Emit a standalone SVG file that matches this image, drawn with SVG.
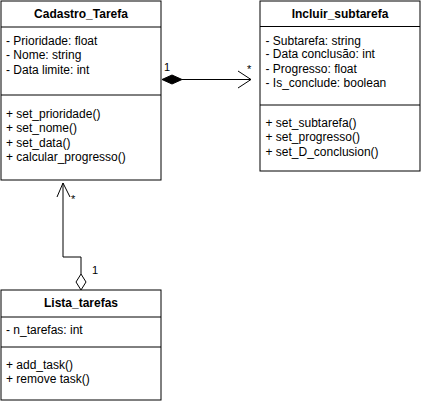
<svg xmlns="http://www.w3.org/2000/svg" width="421" height="404" viewBox="0 0 421 404">
<style>
.box{fill:#fff;stroke:#000;stroke-width:1}
.ln{stroke:#000;stroke-width:1;fill:none}
text{font-family:"Liberation Sans",Arial,sans-serif;font-size:12px;fill:#000}
.t{font-weight:bold;text-anchor:middle}
.lbl{font-size:11px}
</style>
<rect width="421" height="404" fill="#fff"/>
<g id="Cadastro_Tarefa">
<rect class="box" x="1" y="1" width="160" height="179"/>
<line class="ln" x1="1" y1="27" x2="161" y2="27"/>
<line class="ln" x1="1" y1="95" x2="161" y2="95"/>
<text class="t" x="81" y="18">Cadastro_Tarefa</text>
<text x="6" y="44.5">- Prioridade: float</text>
<text x="6" y="59">- Nome: string</text>
<text x="6" y="73.5">- Data limite: int</text>
<text x="6" y="117.5">+ set_prioridade()</text>
<text x="6" y="132">+ set_nome()</text>
<text x="6" y="146.5">+ set_data()</text>
<text x="6" y="161">+ calcular_progresso()</text>
</g>
<g id="Incluir_subtarefa">
<rect class="box" x="260" y="1" width="160" height="170"/>
<line class="ln" x1="260" y1="26.5" x2="420" y2="26.5"/>
<line class="ln" x1="260" y1="105" x2="420" y2="105"/>
<text class="t" x="340" y="18">Incluir_subtarefa</text>
<text x="265.5" y="44.5">- Subtarefa: string</text>
<text x="265.5" y="58">- Data conclusão: int</text>
<text x="265.5" y="72.5">- Progresso: float</text>
<text x="265.5" y="87">- Is_conclude: boolean</text>
<text x="265.5" y="126.5">+ set_subtarefa()</text>
<text x="265.5" y="141">+ set_progresso()</text>
<text x="265.5" y="155.5">+ set_D_conclusion()</text>
</g>
<g id="Lista_tarefas">
<rect class="box" x="1" y="290" width="160" height="110"/>
<line class="ln" x1="1" y1="317" x2="161" y2="317"/>
<line class="ln" x1="1" y1="347" x2="161" y2="347"/>
<text class="t" x="81" y="307">Lista_tarefas</text>
<text x="6" y="334">- n_tarefas: int</text>
<text x="6" y="368.5">+ add_task()</text>
<text x="6" y="383">+ remove task()</text>
</g>
<g id="connectors">
<line class="ln" x1="182" y1="79.5" x2="251" y2="79.5"/>
<polygon points="162,79.5 172,75 182,79.5 172,84" fill="#000" stroke="#000"/>
<polyline class="ln" points="238,71 251,79.5 238,88"/>
<text class="lbl" x="164" y="71">1</text>
<text class="lbl" x="247" y="73">*</text>
<polyline class="ln" points="81,274 81,257 63,257 63,183"/>
<polygon points="81,274 86,282 81,290 76,282" fill="#fff" stroke="#000"/>
<polyline class="ln" points="57,197 63,183 70,197"/>
<text class="lbl" x="71" y="203">*</text>
<text class="lbl" x="92" y="274">1</text>
</g>
</svg>
